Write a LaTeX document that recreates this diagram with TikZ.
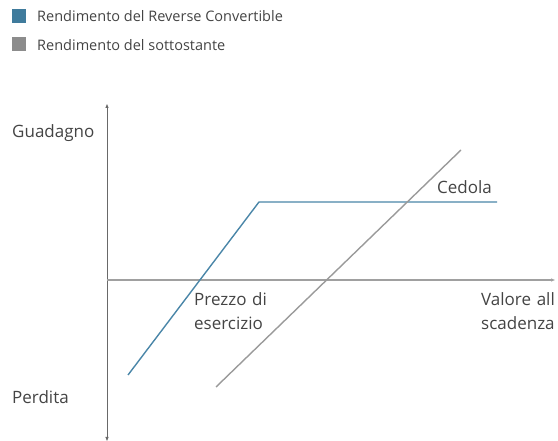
\documentclass[tikz,border=0pt]{standalone}
\usepackage{fontspec}
\setmainfont{Open Sans}
\usetikzlibrary{arrows.meta}
\definecolor{rcblue}{HTML}{4A86A8}
\definecolor{sqblue}{HTML}{3F7B9C}
\definecolor{ulgray}{HTML}{9A9A9A}
\definecolor{sqgray}{HTML}{8C8C8C}
\definecolor{axisgray}{HTML}{A0A0A0}
\definecolor{txt}{HTML}{444444}
\tikzset{
  lbl/.style={font=\fontsize{17}{24}\selectfont, text=txt, inner sep=0pt, align=left},
  leg/.style={font=\fontsize{14.5}{17}\selectfont, text=txt, inner sep=0pt, anchor=west},
  axis/.style={draw=axisgray, line width=1.2pt},
  tip/.style={-{Triangle[length=4pt,width=3pt]}},
}
\begin{document}
\begin{tikzpicture}[x=1pt,y=-1pt]
\useasboundingbox (0,0) rectangle (558,441);
% legend
\fill[sqblue] (12,9) rectangle (26,23);
\node[leg] (l1) at (37,16) {Rendimento del Reverse Convertible};
\fill[sqgray] (12,37) rectangle (26,51);
\node[leg] (l2) at (37,45) {Rendimento del sottostante};
% axes
\coordinate (ytop) at (107,104);
\coordinate (ybot) at (107,441);
\coordinate (y0) at (107,280);
\coordinate (xend) at (555,280);
\draw[axis, line width=0.8pt, {Triangle[length=4pt,width=3pt]}-{Triangle[length=4pt,width=3pt]}, draw=txt!80] (ytop) -- (ybot);
\draw[axis, tip, draw=axisgray] (y0) -- (xend);
% lines
\coordinate (b1) at (128,375);
\coordinate (b2) at (259,202);
\coordinate (b3) at (497,202);
\draw[rcblue, line width=1.4pt] (b1) -- (b2) -- (b3);
\coordinate (g1) at (216,387);
\coordinate (g2) at (461,150);
\draw[ulgray, line width=1.4pt] (g1) -- (g2);
% labels
\node[lbl, anchor=west] (gu) at (12,133) {Guadagno};
\node[lbl, anchor=west] (pe) at (12,397) {Perdita};
\node[lbl, anchor=west] (ce) at (437,187) {Cedola};
\node[lbl, anchor=north west, text width=80pt] (pz) at (194,292) {Prezzo di\\esercizio};
\node[lbl, anchor=north west, text width=90pt] (va) at (481,292) {Valore all\\scadenza};
\end{tikzpicture}
\end{document}
